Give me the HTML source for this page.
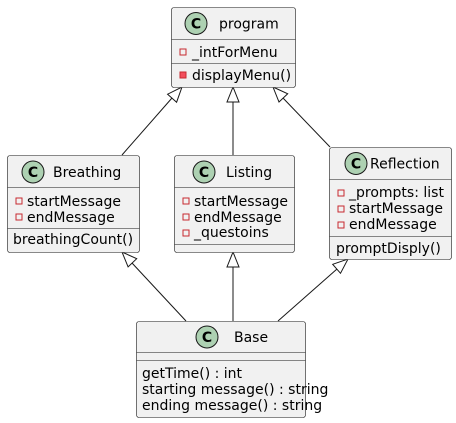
<!DOCTYPE html>
<html><head><meta charset="utf-8"><style>
html,body{margin:0;padding:0;background:#fff;width:456px;height:423px;overflow:hidden}
text{font-family:"DejaVu Sans","Liberation Sans",sans-serif;font-size:14px;fill:#000}
.box{fill:#F1F1F1;stroke:#181818;stroke-width:0.6}
.div{stroke:#181818;stroke-width:0.6}
.ln{stroke:#181818;stroke-width:1;fill:none}
.tri{fill:#fff;stroke:#181818;stroke-width:1}
.ci{fill:#ADD1B2;stroke:#181818;stroke-width:1}
.ct{font-weight:bold;font-size:14px}
.fo{fill:none;stroke:#C82930;stroke-width:1}
.ff{fill:#F24D5C;stroke:#C82930;stroke-width:1}
</style></head><body>
<svg width="456" height="423" viewBox="0 0 456 423" xmlns="http://www.w3.org/2000/svg">
<line class="ln" x1="172" y1="98" x2="122" y2="155"/>
<polygon class="tri" points="182,87 176.6,102.2 167.6,94.2"/>
<line class="ln" x1="233" y1="102" x2="233" y2="155"/>
<polygon class="tri" points="233,87 227,102 239,102"/>
<line class="ln" x1="283" y1="98" x2="330" y2="147"/>
<polygon class="tri" points="273,87 287.7,93.8 279,102"/>
<line class="ln" x1="132" y1="263" x2="186" y2="321"/>
<polygon class="tri" points="122,252 136.7,258.7 128.1,266.9"/>
<line class="ln" x1="233" y1="267" x2="233" y2="321"/>
<polygon class="tri" points="233,252 227,267 239,267"/>
<line class="ln" x1="337" y1="269" x2="278" y2="321"/>
<polygon class="tri" points="348,259 340.5,273.3 332.7,264.3"/>

<rect class="box" x="171.5" y="7.5" width="124" height="80" rx="2.5"/>
<line class="div" x1="171.5" y1="39.5" x2="295.5" y2="39.5"/>
<line class="div" x1="171.5" y1="63.5" x2="295.5" y2="63.5"/>
<circle class="ci" cx="196" cy="23.5" r="11"/>
<text class="ct" x="196" y="28.5" text-anchor="middle">C</text>
<text x="219" y="28.5">program</text>
<rect class="fo" x="180" y="49" width="6" height="6"/>
<text x="192" y="57">_intForMenu</text>
<rect class="ff" x="180" y="72" width="6" height="6"/>
<text x="192" y="80">displayMenu()</text>

<rect class="box" x="7.5" y="155.5" width="132" height="97" rx="2.5"/>
<line class="div" x1="7.5" y1="187.5" x2="139.5" y2="187.5"/>
<line class="div" x1="7.5" y1="228.5" x2="139.5" y2="228.5"/>
<circle class="ci" cx="33" cy="172" r="11"/>
<text class="ct" x="33" y="177" text-anchor="middle">C</text>
<text x="53" y="177">Breathing</text>
<rect class="fo" x="16" y="198" width="6" height="6"/>
<text x="27" y="206">startMessage</text>
<rect class="fo" x="16" y="214" width="6" height="6"/>
<text x="27" y="222">endMessage</text>
<text x="13" y="244">breathingCount()</text>

<rect class="box" x="174.5" y="155.5" width="120" height="97" rx="2.5"/>
<line class="div" x1="174.5" y1="187.5" x2="294.5" y2="187.5"/>
<line class="div" x1="174.5" y1="244.5" x2="294.5" y2="244.5"/>
<circle class="ci" cx="204" cy="172" r="11"/>
<text class="ct" x="204" y="177" text-anchor="middle">C</text>
<text x="226" y="177">Listing</text>
<rect class="fo" x="183" y="198" width="6" height="6"/>
<text x="194" y="206">startMessage</text>
<rect class="fo" x="183" y="214" width="6" height="6"/>
<text x="194" y="222">endMessage</text>
<rect class="fo" x="183" y="230" width="6" height="6"/>
<text x="194" y="237">_questoins</text>

<rect class="box" x="329.5" y="147.5" width="122" height="112" rx="2.5"/>
<line class="div" x1="329.5" y1="179.5" x2="451.5" y2="179.5"/>
<line class="div" x1="329.5" y1="236.5" x2="451.5" y2="236.5"/>
<circle class="ci" cx="356" cy="163.5" r="11"/>
<text class="ct" x="356" y="168.5" text-anchor="middle">C</text>
<text x="370" y="168.5">Reflection</text>
<rect class="fo" x="338" y="190" width="6" height="6"/>
<text x="349" y="197">_prompts: list</text>
<rect class="fo" x="338" y="206" width="6" height="6"/>
<text x="349" y="213">startMessage</text>
<rect class="fo" x="338" y="222" width="6" height="6"/>
<text x="349" y="229">endMessage</text>
<text x="336" y="253">promptDisply()</text>

<rect class="box" x="136.5" y="321.5" width="169" height="96" rx="2.5"/>
<line class="div" x1="136.5" y1="352.5" x2="305.5" y2="352.5"/>
<line class="div" x1="136.5" y1="360.5" x2="305.5" y2="360.5"/>
<circle class="ci" cx="207" cy="337" r="11"/>
<text class="ct" x="207" y="342" text-anchor="middle">C</text>
<text x="234" y="342">Base</text>
<text x="142" y="378">getTime() : int</text>
<text x="142" y="394">starting message() : string</text>
<text x="142" y="410">ending message() : string</text>
</svg>
</body></html>
